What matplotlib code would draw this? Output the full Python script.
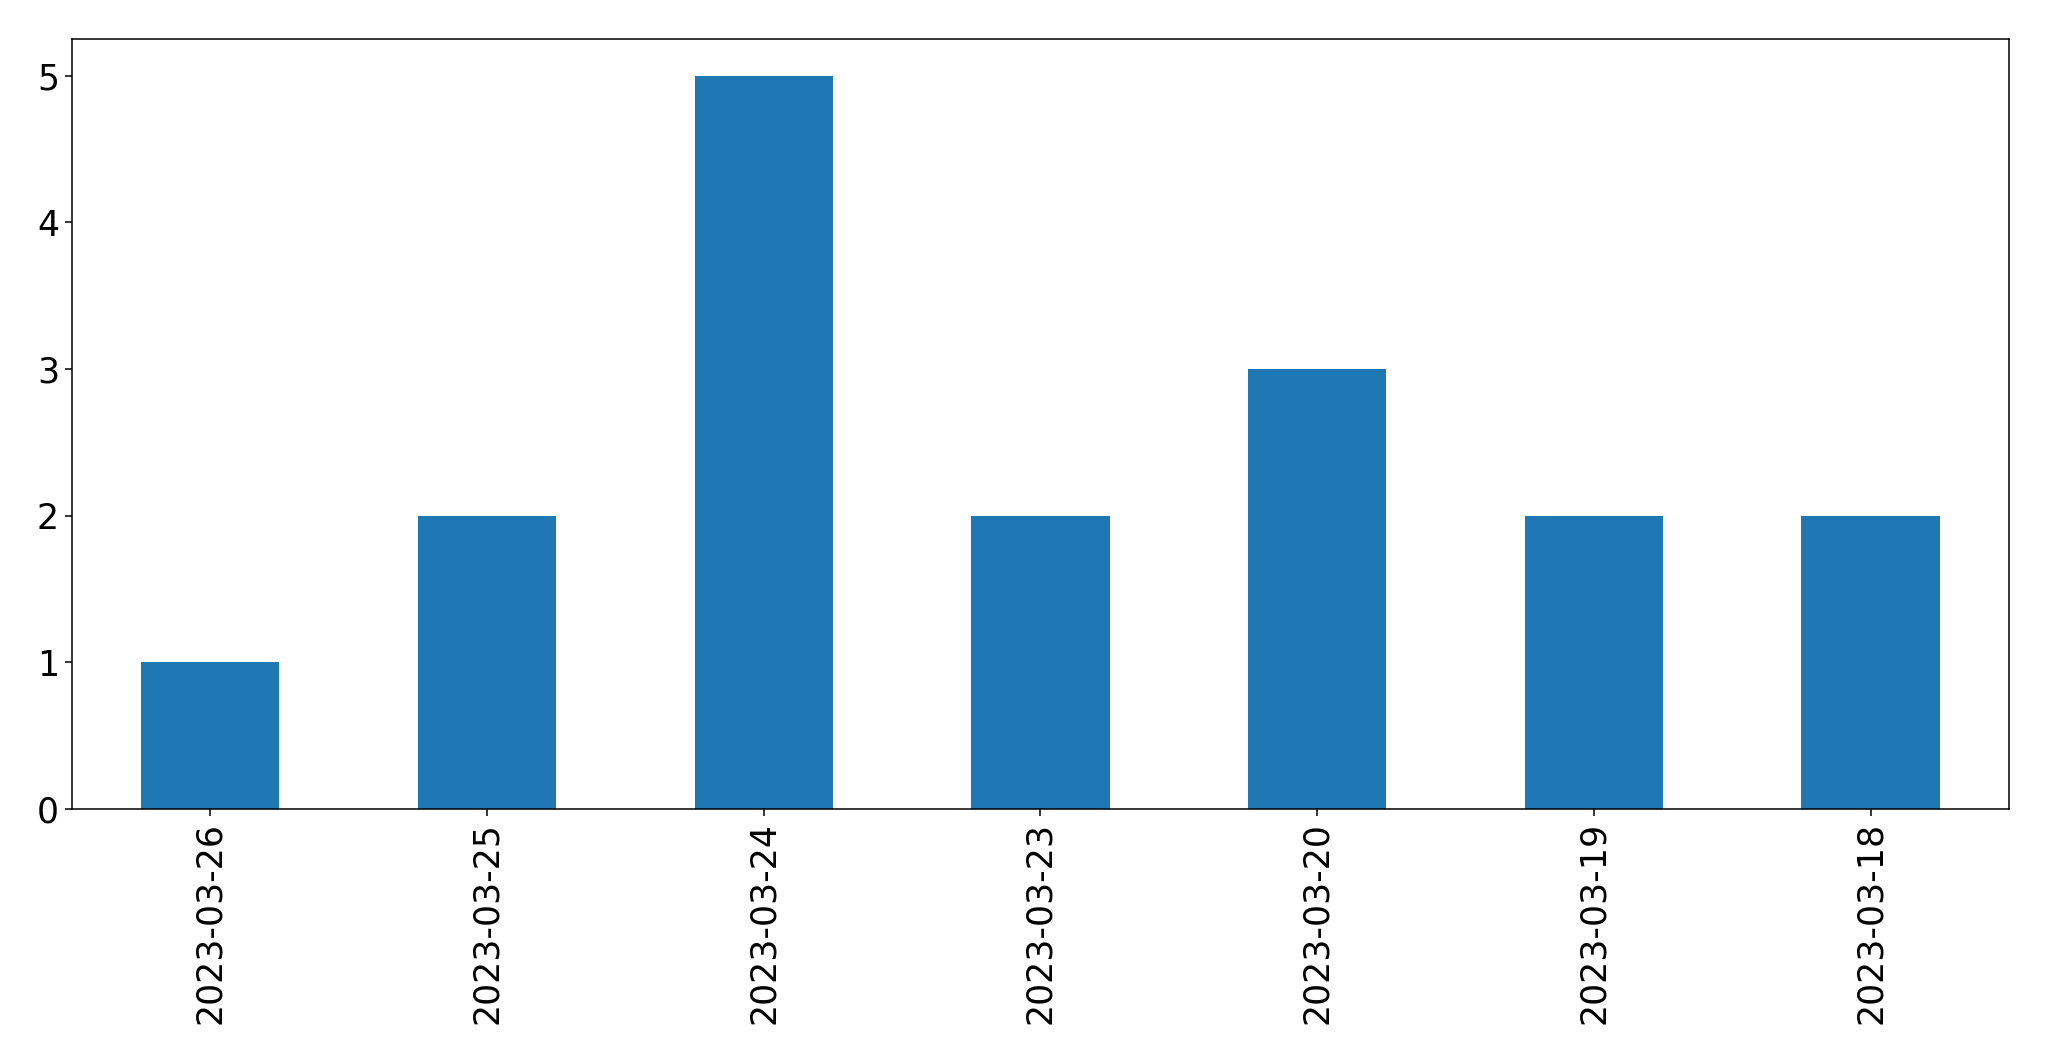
import matplotlib.pyplot as plt
import numpy as np

# データ
dates = ['2023-03-26', '2023-03-25', '2023-03-24', '2023-03-23',
         '2023-03-20', '2023-03-19', '2023-03-18']
counts = [1, 2, 5, 2, 3, 2, 2]

x = np.arange(len(dates))

# 描画
fig = plt.figure(figsize=(20.49, 10.61), dpi=100)
ax = fig.add_axes([0.0351, 0.2375, 0.9454, 0.7257])
ax.bar(x, counts, width=0.5, color='#1f77b4')

# グラフの体裁
ax.set_xlim(-0.5, len(dates) - 0.5)
ax.set_ylim(0, 5.25)
ax.set_xticks(x)
ax.set_xticklabels(dates, rotation=90)
ax.set_yticks([0, 1, 2, 3, 4, 5])
ax.tick_params(labelsize=25, length=4.8, width=1.1, pad=4.5)
for s in ax.spines.values():
    s.set_linewidth(1.1)

plt.savefig('out.png', dpi=100)
